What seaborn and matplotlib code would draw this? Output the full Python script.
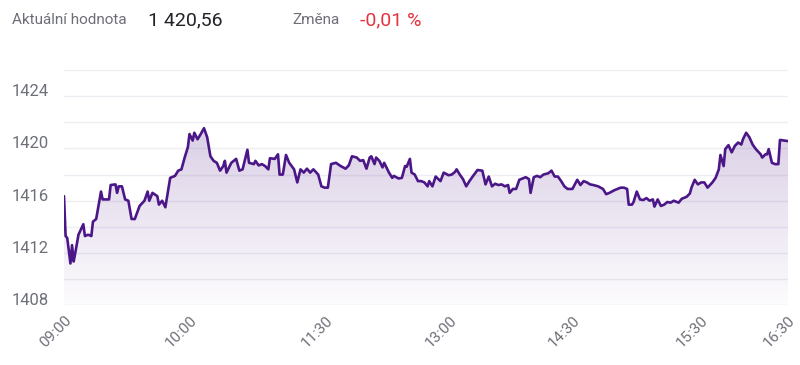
import numpy as np
import pandas as pd
import matplotlib
matplotlib.use("Agg")
import matplotlib.pyplot as plt
import seaborn as sns
from matplotlib.transforms import ScaledTranslation
from matplotlib.colors import LinearSegmentedColormap

# ---- data (session minute index, price) ----
minute = [0, 1, 2, 4, 5, 6, 7, 9, 12, 13, 15, 17, 18, 20, 23, 24, 28, 29, 32, 33,
          34, 36, 38, 40, 42, 44, 47, 50, 52, 53, 55, 58, 59, 61, 63, 66, 69, 71, 73, 75,
          77, 78, 80, 81, 83, 85, 87, 89, 91, 93, 95, 97, 99, 100, 101, 104, 107, 109, 111, 114,
          115, 118, 119, 121, 123, 125, 127, 128, 131, 133, 134, 136, 138, 140, 143, 145, 147, 149, 151, 153,
          155, 158, 160, 162, 164, 166, 169, 172, 175, 177, 179, 182, 184, 186, 188, 190, 191, 193, 194, 196,
          198, 199, 202, 204, 205, 208, 210, 212, 213, 215, 216, 218, 220, 222, 224, 226, 227, 229, 231, 234,
          236, 239, 241, 243, 244, 246, 248, 250, 252, 254, 257, 260, 262, 264, 266, 268, 270, 272, 274, 276,
          277, 279, 281, 283, 287, 289, 290, 292, 294, 296, 298, 301, 303, 305, 307, 309, 311, 313, 316, 319,
          321, 323, 325, 327, 329, 332, 335, 337, 339, 342, 346, 348, 350, 351, 353, 354, 356, 358, 360, 362,
          364, 366, 367, 369, 371, 373, 375, 377, 379, 382, 384, 387, 389, 390, 392, 394, 396, 398, 400, 403,
          405, 407, 408, 410, 411, 413, 415, 417, 419, 421, 422, 424, 426, 428, 430, 433, 434, 436, 437, 438,
          440, 442, 444, 445, 450]
price = [1416.35, 1413.3, 1413.15, 1411.2, 1412.6, 1411.35, 1412.0, 1413.4, 1414.2, 1413.3,
         1413.4, 1413.3, 1414.4, 1414.6, 1416.7, 1416.1, 1416.1, 1417.2, 1417.25, 1416.6,
         1417.1, 1417.1, 1416.1, 1416.0, 1414.6, 1414.6, 1415.6, 1416.0, 1416.7, 1416.0,
         1416.6, 1416.35, 1415.7, 1416.0, 1415.5, 1417.75, 1417.9, 1418.3, 1418.4, 1419.3,
         1420.1, 1421.1, 1420.6, 1421.2, 1420.7, 1421.1, 1421.55, 1420.85, 1419.4, 1419.05,
         1418.9, 1418.3, 1418.65, 1419.05, 1418.15, 1418.9, 1419.2, 1418.3, 1418.4, 1419.9,
         1418.9, 1418.8, 1419.05, 1418.7, 1418.8, 1418.65, 1418.4, 1419.25, 1419.2, 1419.55,
         1418.0, 1418.0, 1419.5, 1418.9, 1418.4, 1417.4, 1418.4, 1418.15, 1418.45, 1418.15,
         1418.4, 1418.0, 1417.1, 1417.0, 1417.0, 1418.8, 1418.9, 1418.65, 1418.45, 1418.7,
         1419.4, 1419.3, 1419.05, 1419.1, 1418.45, 1419.3, 1419.4, 1418.8, 1419.3, 1419.05,
         1418.55, 1418.9, 1418.15, 1417.75, 1417.9, 1417.7, 1417.75, 1418.65, 1418.6, 1419.2,
         1418.15, 1418.0, 1417.5, 1417.5, 1417.4, 1417.1, 1417.5, 1417.1, 1417.85, 1417.5,
         1418.15, 1417.95, 1418.0, 1418.2, 1418.4, 1418.0, 1417.65, 1417.1, 1417.5, 1417.85,
         1418.35, 1418.3, 1417.25, 1417.85, 1417.1, 1417.3, 1417.2, 1417.25, 1417.1, 1417.2,
         1416.6, 1416.9, 1416.9, 1417.6, 1417.8, 1417.65, 1416.6, 1417.8, 1417.9, 1417.8,
         1418.0, 1418.1, 1418.3, 1417.85, 1417.85, 1417.5, 1417.1, 1416.9, 1416.9, 1417.6,
         1417.2, 1417.5, 1417.4, 1417.25, 1417.2, 1417.1, 1416.9, 1416.5, 1416.6, 1416.8,
         1417.0, 1417.0, 1416.9, 1415.7, 1415.7, 1415.9, 1416.7, 1416.1, 1416.05, 1416.2,
         1416.0, 1416.1, 1415.55, 1416.1, 1415.6, 1415.7, 1415.9, 1415.85, 1416.0, 1415.85,
         1416.15, 1416.3, 1416.55, 1417.0, 1417.6, 1417.25, 1417.4, 1417.4, 1417.0, 1417.4,
         1417.75, 1418.4, 1419.5, 1418.65, 1419.95, 1420.25, 1419.7, 1420.2, 1420.45, 1420.3,
         1420.7, 1421.2, 1420.85, 1420.3, 1419.95, 1419.55, 1419.3, 1419.55, 1419.55, 1419.95,
         1418.9, 1418.8, 1418.8, 1420.65, 1420.56]

x_tick_pos = [0, 78, 163, 240, 316, 396, 450]
x_tick_labels = ["09:00", "10:00", "11:30", "13:00", "14:30", "15:30", "16:30"]
y_grid = [1408, 1410, 1412, 1414, 1416, 1418, 1420, 1422, 1424, 1426]
y_labels = ["1408", "", "1412", "", "1416", "", "1420", "", "1424", ""]

header_label = "Aktuální hodnota"
header_value = "1 420,56"
change_label = "Změna"
change_value = "-0,01 %"

# ---- styling ----
sns.set_theme(style="white")
plt.rcParams["font.family"] = ["Roboto", "DejaVu Sans"]

W, H = 800, 365
fig = plt.figure(figsize=(W / 100, H / 100), dpi=100)
ax = fig.add_axes([64 / W, 1 - 305.3 / H, 724 / W, (305.3 - 70) / H])

df = pd.DataFrame({"minute": minute, "price": price})
line_color = "#4b1687"

poly = ax.fill_between(df["minute"], df["price"], y_grid[0], color="none", lw=0)
grad = np.linspace(0, 1, 256).reshape(-1, 1)
cmap = LinearSegmentedColormap.from_list(
    "g", [(0.45, 0.28, 0.62, 0.02), (0.45, 0.28, 0.62, 0.26)])
im = ax.imshow(grad, cmap=cmap, aspect="auto", origin="lower",
               extent=[min(minute), max(minute), y_grid[0], max(price)], zorder=1)
im.set_clip_path(poly.get_paths()[0], transform=ax.transData)

sns.lineplot(data=df, x="minute", y="price", ax=ax, color=line_color,
             lw=1.9, zorder=3, estimator=None)

ax.set_xlim(min(minute), max(minute))
ax.set_ylim(y_grid[0], y_grid[-1])
ax.set_xlabel("")
ax.set_ylabel("")
for s in ax.spines.values():
    s.set_visible(False)

ax.set_yticks(y_grid, y_labels)
ax.grid(axis="y", color="#eeedf3", lw=1, zorder=0)
ax.grid(axis="x", visible=False)
ax.tick_params(axis="y", length=0, pad=11, labelsize=12, labelcolor="#6e7079")
off = ScaledTranslation(0, 6 / 100, fig.dpi_scale_trans)
for lab in ax.get_yticklabels():
    lab.set_transform(lab.get_transform() + off)

ax.set_xticks(x_tick_pos, x_tick_labels, rotation=45, ha="right",
              rotation_mode="anchor")
ax.tick_params(axis="x", length=0, pad=6, labelsize=11, labelcolor="#6e7079")

# ---- header ----
fig.text(12 / W, 1 - 20 / H, header_label, fontsize=11, color="#6e6e78", va="center")
fig.text(148 / W, 1 - 20 / H, header_value, fontsize=14, color="#222228", va="center")
fig.text(292 / W, 1 - 20 / H, change_label, fontsize=11, color="#6e6e78", va="center")
fig.text(360 / W, 1 - 20 / H, change_value, fontsize=14, color="#e5343d", va="center")

fig.savefig("out.png", dpi=100, facecolor="white")
